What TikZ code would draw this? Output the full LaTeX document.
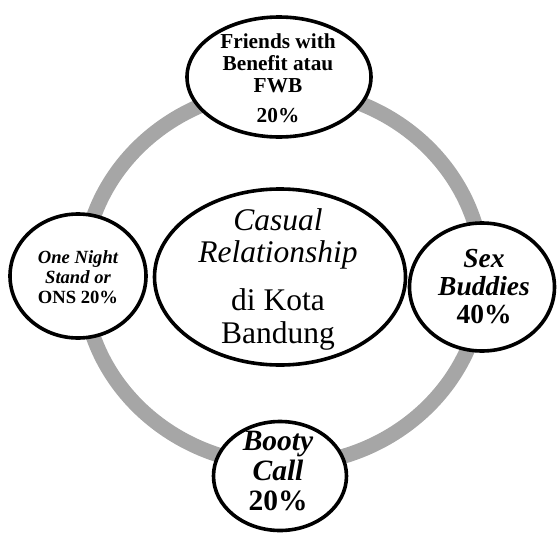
\documentclass[tikz,border=0pt]{standalone}
\usepackage{fontspec}
\setmainfont{Liberation Serif}
\usetikzlibrary{shapes.geometric}
\definecolor{ringgray}{HTML}{A6A6A6}
\tikzset{
  bubble/.style={draw=black, line width=3.6pt, fill=white, ellipse, inner sep=0pt},
  label/.style={align=center, inner sep=0pt, text=black},
}
\begin{document}
\begin{tikzpicture}[x=1pt,y=-1pt]
\useasboundingbox (0,0) rectangle (557,533);
\clip (0,0) rectangle (557,533);
% ring
\draw[ringgray, line width=15pt] (283,277) ellipse [x radius=200, y radius=188];
% shapes
\node[bubble, minimum width=184pt, minimum height=120pt] (fwb) at (279,77) {};
\node[bubble, minimum width=136pt, minimum height=124pt] (ons) at (78,276) {};
\node[bubble, minimum width=145pt, minimum height=128pt] (sex) at (482,287) {};
\node[bubble, minimum width=133pt, minimum height=109pt] (booty) at (280,476) {};
\node[bubble, minimum width=251pt, minimum height=176pt] (central) at (280,277) {};
% texts
\node[label, font=\fontsize{21.3}{22}\selectfont\bfseries] (fwbt) at (278,78)
  {Friends with\\Benefit atau\\FWB\\[8pt]20\%};
\node[label, font=\fontsize{18.6}{20}\selectfont\bfseries] (onst) at (78,277)
  {\itshape One Night\\\itshape Stand or\\ONS 20\%};
\node[label, font=\fontsize{27.5}{28}\selectfont\bfseries] (sext) at (484,286.4)
  {\itshape Sex\\\itshape Buddies\\40\%};
\node[label, font=\fontsize{29.5}{30}\selectfont\bfseries] (bootyt) at (278,470.7)
  {\itshape Booty\\\itshape Call\\20\%};
\node[label, font=\fontsize{31.5}{32}\selectfont] (centralt) at (278,279.6)
  {\itshape Casual\\\itshape Relationship\\[16pt]di Kota\\[1pt]Bandung};
\end{tikzpicture}
\end{document}
